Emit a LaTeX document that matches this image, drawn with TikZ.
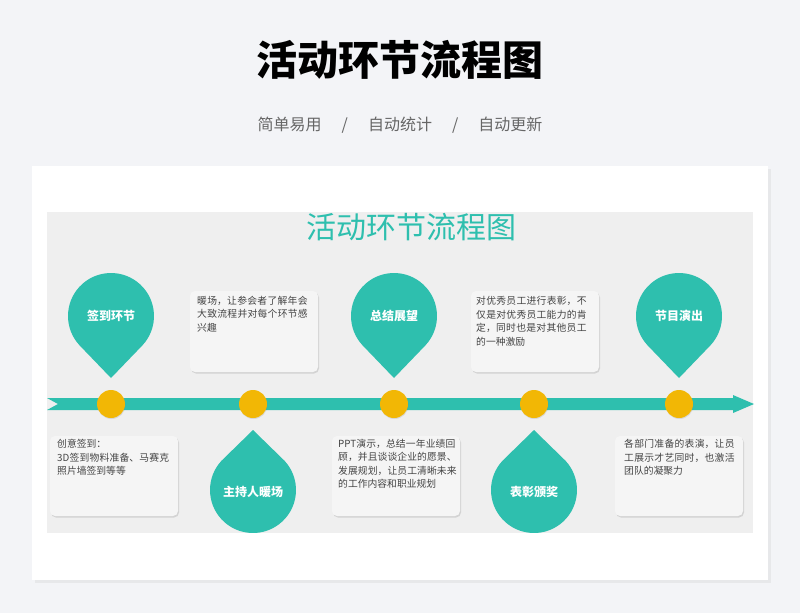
\documentclass[tikz,border=0pt]{standalone}
\usepackage{fontspec}
\setmainfont{Noto Sans CJK SC}
\XeTeXlinebreaklocale "zh"
\XeTeXlinebreakskip=0pt plus 1pt
\usetikzlibrary{shadows,calc}
\definecolor{teal}{HTML}{2EBFAE}
\definecolor{gold}{HTML}{F2B705}
\definecolor{pagebg}{HTML}{F3F4F7}
\definecolor{panel}{HTML}{EFEFEF}
\definecolor{txt}{HTML}{444444}
\tikzset{
 card/.style={rounded corners=5pt,fill=panel!60!white,draw=none,drop shadow={shadow xshift=1pt,shadow yshift=-1.5pt,opacity=0.25}},
 desc/.style={anchor=north west,text width=#1,align=left,font=\fontsize{9.8}{13.5}\selectfont,text=txt,inner sep=0pt},
 droptext/.style={text=white,font=\bfseries\fontsize{12}{14}\selectfont},
 dot/.style={circle,fill=gold,minimum size=28pt,inner sep=0pt,drop shadow={shadow xshift=0.5pt,shadow yshift=-1pt,opacity=0.2}}
}
\begin{document}
\begin{tikzpicture}[x=1pt,y=-1pt]
\useasboundingbox (0,0) rectangle (800,613);
\fill[pagebg] (0,0) rectangle (800,613);
\node (title) at (400,60) {\bfseries\fontsize{41}{46}\selectfont 活动环节流程图};
\node[text=black!60] (sub) at (400,125) {\fontsize{16}{19}\selectfont 简单易用\hspace{20pt}/\hspace{20pt}自动统计\hspace{20pt}/\hspace{20pt}自动更新};
\fill[white,drop shadow={opacity=0.1}] (32,166) rectangle (768,580);
\fill[panel] (47,212) rectangle (753,533);
\node[text=teal] (inner) at (411,227) {\fontsize{30}{34}\selectfont 活动环节流程图};
% timeline
\fill[teal] (47,398) -- (733,398) -- (733,395) -- (754,404) -- (733,413) -- (733,410) -- (47,410) -- (58,404) -- cycle;
% top drops
\foreach \x/\t/\n in {111/签到环节/a,394/总结展望/c,679/节目演出/e}{
 \fill[teal] (\x,378) -- ($(\x,316)+(43:43)$) arc[start angle=43,end angle=-223,radius=43] -- cycle;
 \node[droptext] (d\n) at (\x,316) {\t};
}
\foreach \x/\t/\n in {253/主持人暖场/b,534/表彰颁奖/d}{
 \fill[teal] (\x,430) -- ($(\x,490)+(-43:43)$) arc[start angle=-43,end angle=223,radius=43] -- cycle;
 \node[droptext] (d\n) at (\x,492) {\t};
}
\foreach \x/\n in {111/a,253/b,394/c,534/d,679/e}{
 \node[dot] (p\n) at (\x,404) {};
}
% boxes
\path[card] (190,291) rectangle (318,372);
\node[desc=116pt] (tb) at (197,296) {暖场，让参会者了解年会大致流程并对每个环节感兴趣};
\path[card] (471,291) rectangle (599,372);
\node[desc=116pt] (td) at (476,296) {对优秀员工进行表彰，不仅是对优秀员工能力的肯定，同时也是对其他员工的一种激励};
\path[card] (50,436) rectangle (178,516);
\node[desc=116pt] (ba) at (57,439) {创意签到：\\3D签到物料准备、马赛克照片墙签到等等};
\path[card] (332,436) rectangle (460,516);
\node[desc=120pt] (bc) at (338,439) {PPT演示，总结一年业绩回顾，并且谈谈企业的愿景、发展规划，让员工清晰未来的工作内容和职业规划};
\path[card] (615,436) rectangle (743,516);
\node[desc=116pt] (be) at (624,439) {各部门准备的表演，让员工展示才艺同时，也激活团队的凝聚力};
\end{tikzpicture}
\end{document}
